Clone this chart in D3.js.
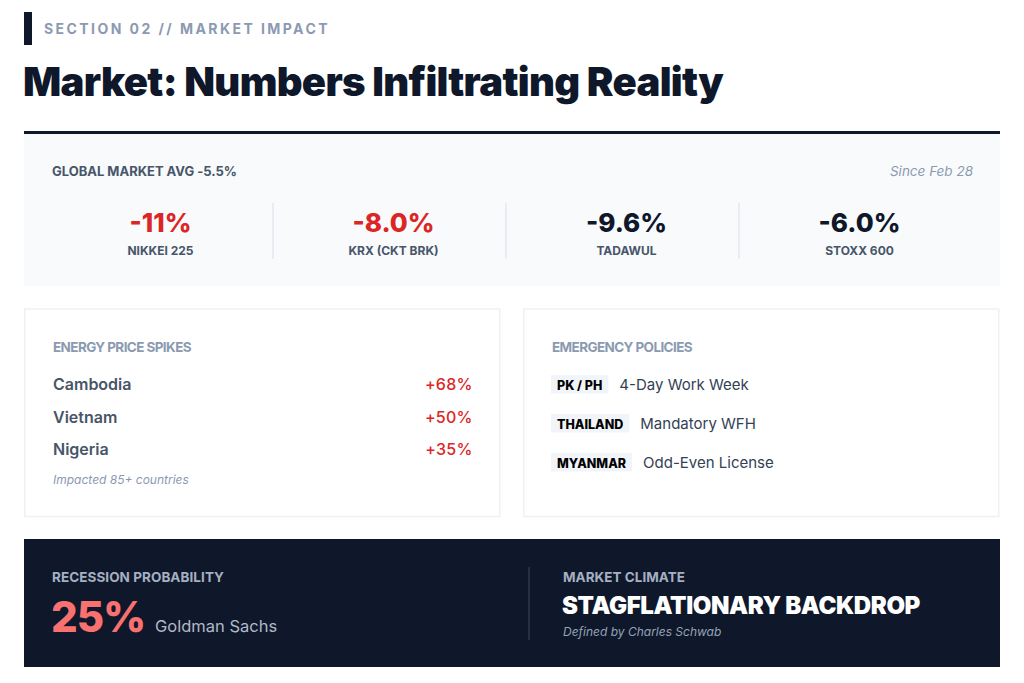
<!DOCTYPE html>
<html>
<head>
<meta charset="utf-8">
<script src="https://cdn.jsdelivr.net/npm/d3@7"></script>
<style>
  html, body { margin: 0; padding: 0; background: #ffffff; }
  svg { display: block; font-family: Inter, "Noto Sans", sans-serif; }
</style>
</head>
<body>
<svg id="chart" width="1024" height="683"></svg>
<script>
// ---------------------------------------------------------------------------
// Data
// ---------------------------------------------------------------------------
const sectionLabel = 'SECTION 02 // MARKET IMPACT';
const pageTitle = 'Market: Numbers Infiltrating Reality';

const globalAvg = -5.5;
const sinceLabel = 'Since Feb 28';

const indexNames = ['NIKKEI 225', 'KRX (CKT BRK)', 'TADAWUL', 'STOXX 600'];
const indexChanges = [-11, -8.0, -9.6, -6.0];
const indexDecimals = [0, 1, 1, 1];
const indexAlert = [true, true, false, false];

const energyCountries = ['Cambodia', 'Vietnam', 'Nigeria'];
const energySpikes = [68, 50, 35];
const energyNote = 'Impacted 85+ countries';

const policyRegions = ['PK / PH', 'THAILAND', 'MYANMAR'];
const policyMeasures = ['4-Day Work Week', 'Mandatory WFH', 'Odd-Even License'];

const recessionProb = 25;
const recessionSource = 'Goldman Sachs';
const climateLabel = 'STAGFLATIONARY BACKDROP';
const climateSource = 'Defined by Charles Schwab';

// ---------------------------------------------------------------------------
// Palette
// ---------------------------------------------------------------------------
const NAVY = '#0f172a';
const SLATE = '#475569';
const MUTED = '#8b9ab1';
const RED = '#dc2626';
const CORAL = '#f87171';

const svg = d3.select('#chart');

// plain hyphen instead of d3's unicode minus
const pct = (v, decimals) => d3.format(`.${decimals}f`)(v).replace('\u2212', '-') + '%';

/**
 * Squeeze or stretch a text node to a target width via letter-spacing
 */
function fitWidth(sel, target) {
  sel.each(function() {
    this.setAttribute('letter-spacing', 0);
    const n = this.getNumberOfChars();
    const w = this.getComputedTextLength();
    this.setAttribute('letter-spacing', ((target - w) / n).toFixed(3));
  });
  return sel;
}

// ---------------------------------------------------------------------------
// Header
// ---------------------------------------------------------------------------
svg.append('rect')
  .attr('x', 24).attr('y', 12).attr('width', 8).attr('height', 33)
  .attr('fill', NAVY);

svg.append('text')
  .attr('x', 44).attr('y', 34)
  .attr('font-size', 14).attr('font-weight', 700)
  .attr('fill', MUTED)
  .text(sectionLabel)
  .call(fitWidth, 286);

svg.append('text')
  .attr('x', 23).attr('y', 96)
  .attr('font-size', 40).attr('font-weight', 900)
  .attr('fill', NAVY)
  .text(pageTitle)
  .call(fitWidth, 700);

svg.append('rect')
  .attr('x', 24).attr('y', 131).attr('width', 976).attr('height', 3)
  .attr('fill', NAVY);

// ---------------------------------------------------------------------------
// Global market panel
// ---------------------------------------------------------------------------
const market = svg.append('g');

market.append('rect')
  .attr('x', 24).attr('y', 134).attr('width', 976).attr('height', 152)
  .attr('fill', '#f8fafc');

market.append('text')
  .attr('x', 52).attr('y', 176)
  .attr('font-size', 13).attr('font-weight', 700)
  .attr('fill', SLATE)
  .text(`GLOBAL MARKET AVG ${pct(globalAvg, 1)}`)
  .call(fitWidth, 185);

market.append('text')
  .attr('x', 973).attr('y', 176)
  .attr('text-anchor', 'end')
  .attr('font-size', 13.5).attr('font-style', 'italic')
  .attr('fill', MUTED)
  .text(sinceLabel);

const xIndex = d3.scaleBand()
  .domain(indexNames)
  .range([44, 976]);

const cols = market.selectAll('.index-col')
  .data(indexNames.map((name, i) => ({
    name,
    change: indexChanges[i],
    decimals: indexDecimals[i],
    alert: indexAlert[i]
  })))
  .join('g')
  .attr('class', 'index-col')
  .attr('transform', d => `translate(${xIndex(d.name) + xIndex.bandwidth() / 2},0)`);

cols.append('text')
  .attr('y', 232)
  .attr('text-anchor', 'middle')
  .attr('font-size', 26).attr('font-weight', 800)
  .attr('fill', d => d.alert ? RED : NAVY)
  .text(d => pct(d.change, d.decimals));

cols.append('text')
  .attr('y', 254.5)
  .attr('text-anchor', 'middle')
  .attr('font-size', 12).attr('font-weight', 700)
  .attr('fill', SLATE)
  .text(d => d.name);

market.selectAll('.index-divider')
  .data(indexNames.slice(1))
  .join('line')
  .attr('class', 'index-divider')
  .attr('x1', d => xIndex(d) - 4).attr('x2', d => xIndex(d) - 4)
  .attr('y1', 203).attr('y2', 259)
  .attr('stroke', '#e2e8f0').attr('stroke-width', 1.5);

// ---------------------------------------------------------------------------
// Cards
// ---------------------------------------------------------------------------
function card(x) {
  const g = svg.append('g').attr('transform', `translate(${x},0)`);
  g.append('rect')
    .attr('x', 0.75).attr('y', 309).attr('width', 475).attr('height', 207.5)
    .attr('fill', '#ffffff')
    .attr('stroke', '#edf1f6').attr('stroke-width', 1.5);
  return g;
}

function cardTitle(g, label, width) {
  g.append('text')
    .attr('x', 29).attr('y', 351.5)
    .attr('font-size', 13.5).attr('font-weight', 700)
    .attr('fill', MUTED)
    .text(label)
    .call(fitWidth, width);
}

// Energy price spikes
const energy = card(24);
cardTitle(energy, 'ENERGY PRICE SPIKES', 138);

const yEnergy = d3.scalePoint()
  .domain(energyCountries)
  .range([390, 455]);

const energyRows = energy.selectAll('.energy-row')
  .data(energyCountries.map((c, i) => ({ country: c, spike: energySpikes[i] })))
  .join('g')
  .attr('class', 'energy-row')
  .attr('transform', d => `translate(0,${yEnergy(d.country)})`);

energyRows.append('text')
  .attr('x', 29)
  .attr('font-size', 16).attr('font-weight', 600)
  .attr('fill', SLATE)
  .text(d => d.country);

energyRows.append('text')
  .attr('x', 448.5)
  .attr('text-anchor', 'end')
  .attr('font-size', 16).attr('font-weight', 500)
  .attr('letter-spacing', 0.2)
  .attr('fill', RED)
  .text(d => `+${d.spike}%`);

energy.append('text')
  .attr('x', 29).attr('y', 484)
  .attr('font-size', 12).attr('font-style', 'italic')
  .attr('fill', MUTED)
  .text(energyNote);

// Emergency policies
const policy = card(523);
cardTitle(policy, 'EMERGENCY POLICIES', 140);

const yPolicy = d3.scalePoint()
  .domain(policyRegions)
  .range([390, 468]);

const policyRows = policy.selectAll('.policy-row')
  .data(policyRegions.map((r, i) => ({ region: r, measure: policyMeasures[i] })))
  .join('g')
  .attr('class', 'policy-row')
  .attr('transform', d => `translate(0,${yPolicy(d.region)})`);

policyRows.append('rect')
  .attr('x', 28).attr('y', -15).attr('height', 18.5)
  .attr('fill', '#f1f5f9');

policyRows.append('text')
  .attr('class', 'tag')
  .attr('x', 34)
  .attr('font-size', 12.5).attr('font-weight', 800)
  .attr('fill', '#000000')
  .text(d => d.region);

policyRows.append('text')
  .attr('class', 'measure')
  .attr('font-size', 15).attr('font-weight', 400)
  .attr('fill', '#334155')
  .text(d => d.measure);

// size tag boxes from their label widths
policyRows.each(function() {
  const row = d3.select(this);
  const w = row.select('.tag').node().getComputedTextLength();
  row.select('rect').attr('width', w + 12);
  row.select('.measure').attr('x', 28 + w + 12 + 11);
});

// ---------------------------------------------------------------------------
// Dark summary band
// ---------------------------------------------------------------------------
const band = svg.append('g');

band.append('rect')
  .attr('x', 24).attr('y', 539).attr('width', 976).attr('height', 128)
  .attr('fill', NAVY);

band.append('text')
  .attr('x', 52).attr('y', 582)
  .attr('font-size', 13.5).attr('font-weight', 700)
  .attr('fill', '#a5b0c1')
  .text('RECESSION PROBABILITY')
  .call(fitWidth, 172);

band.append('text')
  .attr('x', 51).attr('y', 632)
  .attr('font-size', 42).attr('font-weight', 800)
  .attr('fill', CORAL)
  .text(`${recessionProb}%`)
  .call(fitWidth, 94);

band.append('text')
  .attr('x', 155).attr('y', 632)
  .attr('font-size', 16.5).attr('font-weight', 400)
  .attr('fill', '#b0bac8')
  .text(recessionSource);

band.append('line')
  .attr('x1', 529).attr('x2', 529)
  .attr('y1', 567).attr('y2', 640)
  .attr('stroke', '#334155').attr('stroke-width', 1.2);

band.append('text')
  .attr('x', 563).attr('y', 582)
  .attr('font-size', 13.5).attr('font-weight', 700)
  .attr('fill', '#a5b0c1')
  .text('MARKET CLIMATE')
  .call(fitWidth, 122);

band.append('text')
  .attr('x', 562).attr('y', 613.5)
  .attr('font-size', 24).attr('font-weight', 900)
  .attr('fill', '#ffffff')
  .text(climateLabel)
  .call(fitWidth, 358);

band.append('text')
  .attr('x', 563).attr('y', 636)
  .attr('font-size', 12).attr('font-style', 'italic')
  .attr('fill', '#94a3b8')
  .text(climateSource);
</script>
</body>
</html>
